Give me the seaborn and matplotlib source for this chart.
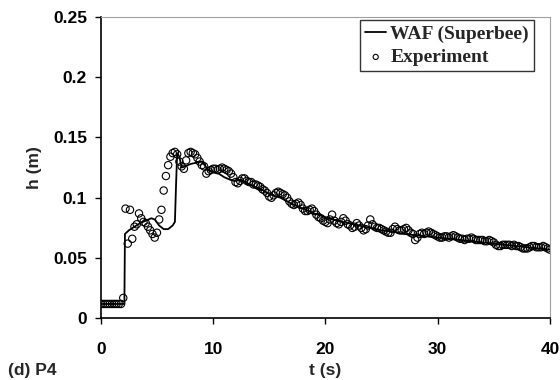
import numpy as np
import pandas as pd
import matplotlib
matplotlib.use("Agg")
import matplotlib.pyplot as plt
import seaborn as sns

# WAF (Superbee) simulation
waf_t = [0, 2.1, 2.15, 2.5, 3.0, 3.5, 4.0, 4.5, 4.8, 5.2, 5.6, 6.0, 6.4, 6.6,
         6.7, 6.8, 7.0, 7.2, 7.5, 8.0, 8.5, 9.0, 9.5, 10.0, 10.5, 11.0, 11.5,
         12.0, 12.5, 13.0, 13.5, 14.0, 14.5, 15.0, 16, 17, 18, 19, 20, 21, 22,
         23, 24, 25, 26, 27, 28, 29, 30, 31, 32, 33, 34, 35, 36, 37, 38, 39, 40]
waf_h = [0.012, 0.012, 0.070, 0.073, 0.076, 0.079, 0.081, 0.083, 0.082, 0.077,
         0.074, 0.074, 0.077, 0.080, 0.110, 0.137, 0.134, 0.125, 0.126, 0.128,
         0.129, 0.130, 0.124, 0.121, 0.120, 0.117, 0.115, 0.114, 0.115, 0.112,
         0.110, 0.108, 0.106, 0.103, 0.100, 0.095, 0.091, 0.087, 0.084, 0.081,
         0.079, 0.077, 0.075, 0.073, 0.072, 0.070, 0.069, 0.068, 0.067, 0.066,
         0.065, 0.064, 0.063, 0.062, 0.061, 0.060, 0.059, 0.058, 0.057]

# experiment, one gauge reading every 0.2 s from t = 0 to 40
exp_dt = 0.2
exp_h = [
    0.012, 0.012, 0.012, 0.012, 0.012, 0.012, 0.012, 0.012, 0.012, 0.012,
    0.017, 0.091, 0.062, 0.090, 0.066, 0.076, 0.078, 0.087, 0.083, 0.080,
    0.079, 0.076, 0.073, 0.070, 0.067, 0.071, 0.082, 0.090, 0.106, 0.118,
    0.127, 0.134, 0.137, 0.138, 0.136, 0.130, 0.126, 0.124, 0.131, 0.137,
    0.138, 0.137, 0.136, 0.133, 0.130, 0.127, 0.126, 0.120, 0.122, 0.123,
    0.124, 0.124, 0.123, 0.124, 0.125, 0.124, 0.123, 0.122, 0.120, 0.117,
    0.113, 0.112, 0.114, 0.116, 0.116, 0.114, 0.113, 0.113, 0.111, 0.111,
    0.110, 0.109, 0.107, 0.106, 0.104, 0.101, 0.100, 0.102, 0.104, 0.105,
    0.104, 0.103, 0.102, 0.100, 0.097, 0.095, 0.094, 0.095, 0.096, 0.094,
    0.091, 0.089, 0.089, 0.090, 0.091, 0.089, 0.086, 0.084, 0.083, 0.081,
    0.080, 0.079, 0.082, 0.086, 0.081, 0.079, 0.078, 0.080, 0.083, 0.081,
    0.078, 0.077, 0.075, 0.076, 0.079, 0.077, 0.075, 0.073, 0.074, 0.077,
    0.082, 0.078, 0.076, 0.075, 0.075, 0.074, 0.073, 0.072, 0.071, 0.071,
    0.074, 0.076, 0.074, 0.073, 0.073, 0.074, 0.075, 0.073, 0.071, 0.070,
    0.065, 0.067, 0.070, 0.071, 0.070, 0.071, 0.072, 0.071, 0.070, 0.069,
    0.068, 0.067, 0.067, 0.068, 0.068, 0.067, 0.068, 0.069, 0.068, 0.067,
    0.066, 0.066, 0.065, 0.066, 0.066, 0.067, 0.066, 0.065, 0.065, 0.065,
    0.065, 0.064, 0.064, 0.065, 0.064, 0.063, 0.061, 0.060, 0.060, 0.061,
    0.061, 0.061, 0.061, 0.060, 0.061, 0.060, 0.060, 0.059, 0.058, 0.058,
    0.058, 0.059, 0.060, 0.060, 0.059, 0.059, 0.059, 0.060, 0.059, 0.058,
    0.057,
]
exp_t = np.arange(len(exp_h)) * exp_dt

x_ticks = [0, 10, 20, 30, 40]
y_ticks = [0, 0.05, 0.1, 0.15, 0.2, 0.25]
y_labels = ["0", "0.05", "0.1", "0.15", "0.2", "0.25"]

waf = pd.DataFrame({"t": waf_t, "h": waf_h})
exp = pd.DataFrame({"t": exp_t, "h": exp_h})

sns.set_theme(style="ticks")
plt.rcParams["font.family"] = ["Liberation Sans", "DejaVu Sans"]

fig = plt.figure(figsize=(5.6, 3.8), dpi=100)
ax = fig.add_axes([0.180, 0.162, 0.802, 0.794])

sns.scatterplot(data=exp, x="t", y="h", ax=ax, marker="o", s=28,
                facecolor="none", edgecolor="black", linewidth=0.8,
                label="Experiment", zorder=2)
sns.lineplot(data=waf, x="t", y="h", ax=ax, color="black", linewidth=1.3,
             label="WAF (Superbee)", zorder=3)

ax.set_xlim(0, 40)
ax.set_ylim(0, 0.25)
ax.set_xticks(x_ticks)
ax.set_yticks(y_ticks)
ax.set_yticklabels(y_labels)
ax.tick_params(axis="both", direction="out", length=4, width=1,
               labelsize=12.5, colors="black")
ax.tick_params(axis="x", pad=13)
ax.tick_params(axis="y", pad=6)
for lab in ax.get_xticklabels() + ax.get_yticklabels():
    lab.set_fontweight("bold")

for side in ["left", "bottom"]:
    ax.spines[side].set_color("black")
    ax.spines[side].set_linewidth(1.2)
for side in ["top", "right"]:
    ax.spines[side].set_color("#a0a0a0")
    ax.spines[side].set_linewidth(0.8)

ax.set_xlabel("t (s)", fontsize=12.5, fontweight="bold", labelpad=4)
ax.set_ylabel("h (m)", fontsize=12.5, fontweight="bold", labelpad=8)

handles, labels = ax.get_legend_handles_labels()
order = [labels.index("WAF (Superbee)"), labels.index("Experiment")]
leg = ax.legend([handles[i] for i in order], [labels[i] for i in order],
                loc="upper right", bbox_to_anchor=(0.964, 0.989),
                prop={"family": "Liberation Serif", "weight": "bold", "size": 14},
                frameon=True, fancybox=False, edgecolor="black",
                handlelength=1.1, handletextpad=0.2, borderpad=0.25,
                borderaxespad=0, labelspacing=0.3, markerscale=0.7)
leg.get_frame().set_linewidth(1.0)

fig.text(0.014, 0.024, "(d) P4", fontsize=12.5, fontweight="bold",
         ha="left", va="center")

fig.savefig("out.png", dpi=100, facecolor="white")
